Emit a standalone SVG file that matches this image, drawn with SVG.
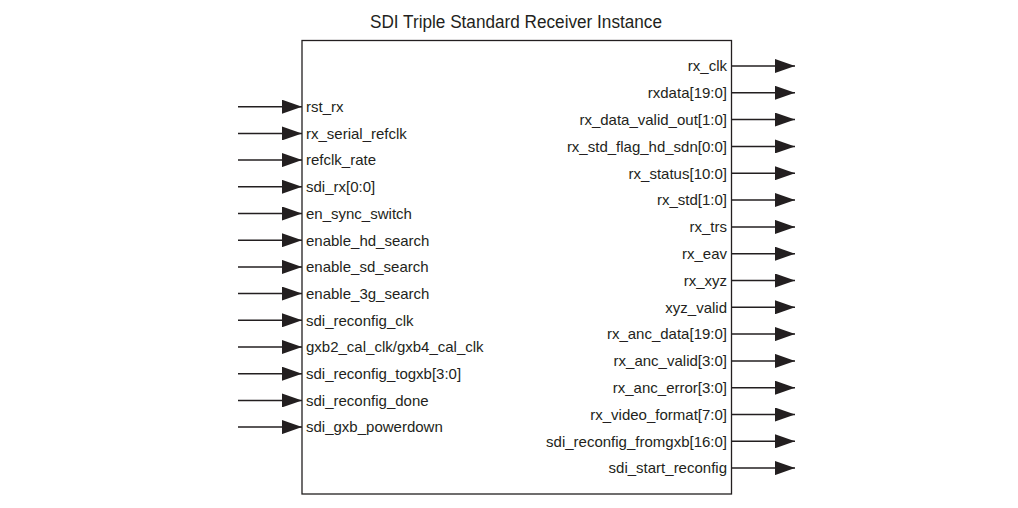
<svg xmlns="http://www.w3.org/2000/svg" width="1018" height="508" viewBox="0 0 1018 508">
<style>
text{font-family:"Liberation Sans",Arial,sans-serif;fill:#231f20}
.lbl{font-size:15px}
.r{text-anchor:end}
.title{font-size:17.5px;text-anchor:middle}
.box{fill:#fff;stroke:#231f20;stroke-width:1.3}
.w{stroke:#231f20;stroke-width:1.5;fill:none}
</style>
<defs>
<marker id="ah" markerUnits="userSpaceOnUse" markerWidth="20" markerHeight="14" refX="20" refY="7" orient="auto">
<path d="M0,0 L20,7 L0,14 Z" fill="#231f20"/>
</marker>
</defs>
<rect width="1018" height="508" fill="#fff"/>
<text class="title" x="516" y="28" textLength="292" lengthAdjust="spacingAndGlyphs">SDI Triple Standard Receiver Instance</text>
<g id="receiver">
<rect class="box" x="302" y="40.5" width="429.5" height="453.5"/>
</g>
<g id="connectors" class="w">
<path marker-end="url(#ah)" d="M238,106.7H302"/>
<path marker-end="url(#ah)" d="M238,133.4H302"/>
<path marker-end="url(#ah)" d="M238,160.1H302"/>
<path marker-end="url(#ah)" d="M238,186.8H302"/>
<path marker-end="url(#ah)" d="M238,213.5H302"/>
<path marker-end="url(#ah)" d="M238,240.2H302"/>
<path marker-end="url(#ah)" d="M238,266.9H302"/>
<path marker-end="url(#ah)" d="M238,293.6H302"/>
<path marker-end="url(#ah)" d="M238,320.3H302"/>
<path marker-end="url(#ah)" d="M238,347H302"/>
<path marker-end="url(#ah)" d="M238,373.7H302"/>
<path marker-end="url(#ah)" d="M238,400.4H302"/>
<path marker-end="url(#ah)" d="M238,427.1H302"/>
<path marker-end="url(#ah)" d="M731.5,66H795"/>
<path marker-end="url(#ah)" d="M731.5,92.8H795"/>
<path marker-end="url(#ah)" d="M731.5,119.6H795"/>
<path marker-end="url(#ah)" d="M731.5,146.4H795"/>
<path marker-end="url(#ah)" d="M731.5,173.2H795"/>
<path marker-end="url(#ah)" d="M731.5,200H795"/>
<path marker-end="url(#ah)" d="M731.5,226.9H795"/>
<path marker-end="url(#ah)" d="M731.5,253.7H795"/>
<path marker-end="url(#ah)" d="M731.5,280.5H795"/>
<path marker-end="url(#ah)" d="M731.5,307.3H795"/>
<path marker-end="url(#ah)" d="M731.5,334.1H795"/>
<path marker-end="url(#ah)" d="M731.5,360.9H795"/>
<path marker-end="url(#ah)" d="M731.5,387.7H795"/>
<path marker-end="url(#ah)" d="M731.5,414.5H795"/>
<path marker-end="url(#ah)" d="M731.5,441.3H795"/>
<path marker-end="url(#ah)" d="M731.5,468.1H795"/>
</g>
<g id="inputs" class="lbl">
<text x="306" y="112">rst_rx</text>
<text x="306" y="138.7">rx_serial_refclk</text>
<text x="306" y="165.4">refclk_rate</text>
<text x="306" y="192.1">sdi_rx[0:0]</text>
<text x="306" y="218.8">en_sync_switch</text>
<text x="306" y="245.5">enable_hd_search</text>
<text x="306" y="272.2">enable_sd_search</text>
<text x="306" y="298.9">enable_3g_search</text>
<text x="306" y="325.6">sdi_reconfig_clk</text>
<text x="306" y="352.3">gxb2_cal_clk/gxb4_cal_clk</text>
<text x="306" y="379">sdi_reconfig_togxb[3:0]</text>
<text x="306" y="405.7">sdi_reconfig_done</text>
<text x="306" y="432.4">sdi_gxb_powerdown</text>
</g>
<g id="outputs" class="lbl r">
<text class="r" x="727" y="71.3">rx_clk</text>
<text class="r" x="727" y="98.1">rxdata[19:0]</text>
<text class="r" x="727" y="124.9">rx_data_valid_out[1:0]</text>
<text class="r" x="727" y="151.7">rx_std_flag_hd_sdn[0:0]</text>
<text class="r" x="727" y="178.5">rx_status[10:0]</text>
<text class="r" x="727" y="205.3">rx_std[1:0]</text>
<text class="r" x="727" y="232.2">rx_trs</text>
<text class="r" x="727" y="259">rx_eav</text>
<text class="r" x="727" y="285.8">rx_xyz</text>
<text class="r" x="727" y="312.6">xyz_valid</text>
<text class="r" x="727" y="339.4">rx_anc_data[19:0]</text>
<text class="r" x="727" y="366.2">rx_anc_valid[3:0]</text>
<text class="r" x="727" y="393">rx_anc_error[3:0]</text>
<text class="r" x="727" y="419.8">rx_video_format[7:0]</text>
<text class="r" x="727" y="446.6">sdi_reconfig_fromgxb[16:0]</text>
<text class="r" x="727" y="473.4">sdi_start_reconfig</text>
</g>
</svg>
